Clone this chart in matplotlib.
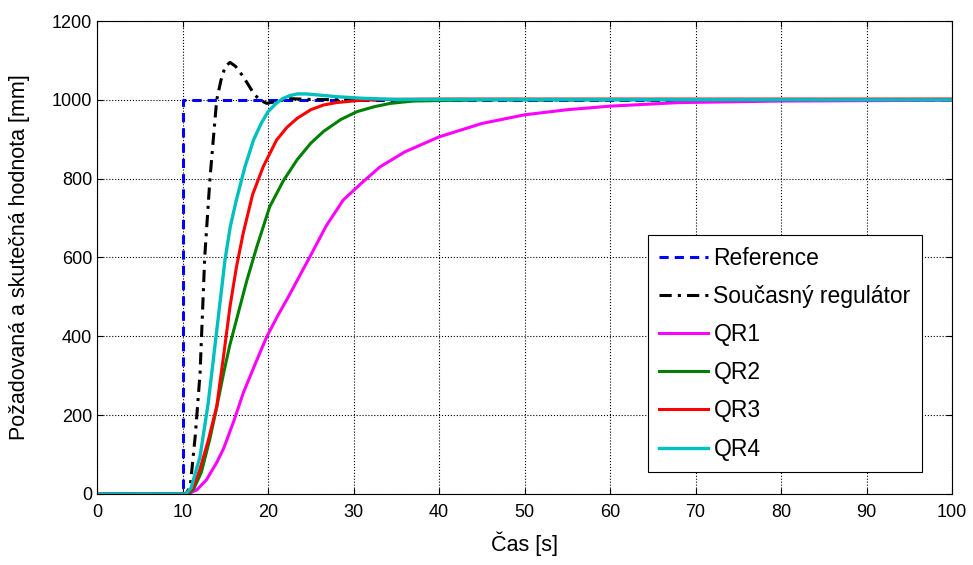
import numpy as np
import matplotlib
matplotlib.use("Agg")
import matplotlib.pyplot as plt

plt.rcParams['font.family'] = ['Liberation Sans', 'DejaVu Sans']

# data
t_ref = [0, 10, 10, 100]
v_ref = [0, 0, 1000, 1000]

t_cur = [0, 10.4, 10.9, 11.5, 12.05, 12.6, 13.2, 13.6, 14.0, 14.5, 15.0, 15.56,
         16.2, 17.1, 18.3, 19.0, 19.85, 21.0, 22.6, 25, 30, 100]
v_cur = [0, 0, 19, 150, 306, 602, 797, 900, 1000, 1050, 1085, 1095,
         1085, 1059, 1017, 1000, 991, 996, 1003, 1001, 1000, 1000]

t_qr1 = [0, 10.6, 11.66, 12.8, 14.0, 14.8, 16.0, 17.1, 18.5, 19.85, 21.2, 22.4, 24.9,
         26.8, 28.8, 31, 33.1, 36, 40, 45, 50, 55, 60, 68, 80, 100]
v_qr1 = [0, 0, 10, 36, 80, 115, 185, 256, 330, 399, 455, 501, 602,
         680, 746, 790, 830, 868, 906, 940, 962, 975, 984, 993, 997, 999]

t_qr2 = [0, 10.6, 11.3, 12.2, 13.2, 14.0, 14.8, 15.5, 16.3, 17.5, 18.7, 20.2, 21.8,
         23.4, 25, 26.5, 28.5, 30.4, 32.5, 34.3, 37, 45, 100]
v_qr2 = [0, 0, 12, 55, 140, 220, 306, 375, 441, 540, 628, 729, 795,
         848, 890, 920, 950, 970, 983, 991, 997, 1000, 1001]

t_qr3 = [0, 10.5, 11.2, 12.0, 13.0, 14.0, 14.8, 15.55, 16.3, 17.1, 18.2, 19.45, 21.0,
         22.2, 23.4, 25, 26.5, 28, 30.4, 33, 40, 100]
v_qr3 = [0, 0, 15, 60, 135, 222, 350, 475, 575, 662, 760, 831, 898,
         930, 953, 975, 987, 993, 998, 1001, 1002, 1002]

t_qr4 = [0, 10.4, 11.0, 12.05, 13.0, 13.6, 14.3, 14.97, 15.6, 16.3, 17.3, 18.3, 19.2,
         20.0, 21.0, 21.8, 22.6, 23.4, 24.5, 26, 28, 31, 35, 100]
v_qr4 = [0, 0, 15, 95, 230, 340, 470, 594, 680, 746, 830, 898, 940,
         970, 992, 1004, 1011, 1015, 1015, 1012, 1008, 1004, 1001, 1000]

fig = plt.figure(figsize=(9.73, 5.65), dpi=100)
ax = fig.add_axes([0.0997, 0.1257, 0.8788, 0.8371])

ax.plot(t_ref, v_ref, color='#0000ff', ls=(0, (3, 2)), lw=2.2, label='Reference')
ax.plot(t_cur, v_cur, color='black', ls=(0, (4, 2, 1, 2)), lw=2.2, label='Současný regulátor')
ax.plot(t_qr1, v_qr1, color='#ff00ff', lw=2.2, label='QR1')
ax.plot(t_qr2, v_qr2, color='#008000', lw=2.2, label='QR2')
ax.plot(t_qr3, v_qr3, color='#ff0000', lw=2.2, label='QR3')
ax.plot(t_qr4, v_qr4, color='#00bfbf', lw=2.4, label='QR4')

ax.set_xlim(0, 100)
ax.set_ylim(0, 1200)
ax.set_xticks(np.arange(0, 101, 10))
ax.set_yticks(np.arange(0, 1201, 200))
ax.grid(True, color='black', ls=':', lw=0.8)
ax.tick_params(direction='in', top=True, right=True, labelsize=13, length=4)
ax.tick_params(axis='x', pad=7)
for s in ax.spines.values():
    s.set_linewidth(0.8)

ax.set_xlabel('Čas [s]', fontsize=15.5, va='top')
ax.xaxis.set_label_coords(0.5, -0.08)
ax.set_ylabel('Požadovaná a skutečná hodnota [mm]', fontsize=15.5)
ax.yaxis.set_label_coords(-0.078, 0.5)

leg = ax.legend(loc='lower right', bbox_to_anchor=(0.965, 0.0465), borderaxespad=0,
                fontsize=16.5, fancybox=False, framealpha=1, edgecolor='black',
                handlelength=2.14, labelspacing=0.66, handletextpad=0.22,
                borderpad=0.5)
leg.get_frame().set_linewidth(0.8)

fig.savefig('out.png', dpi=100)
